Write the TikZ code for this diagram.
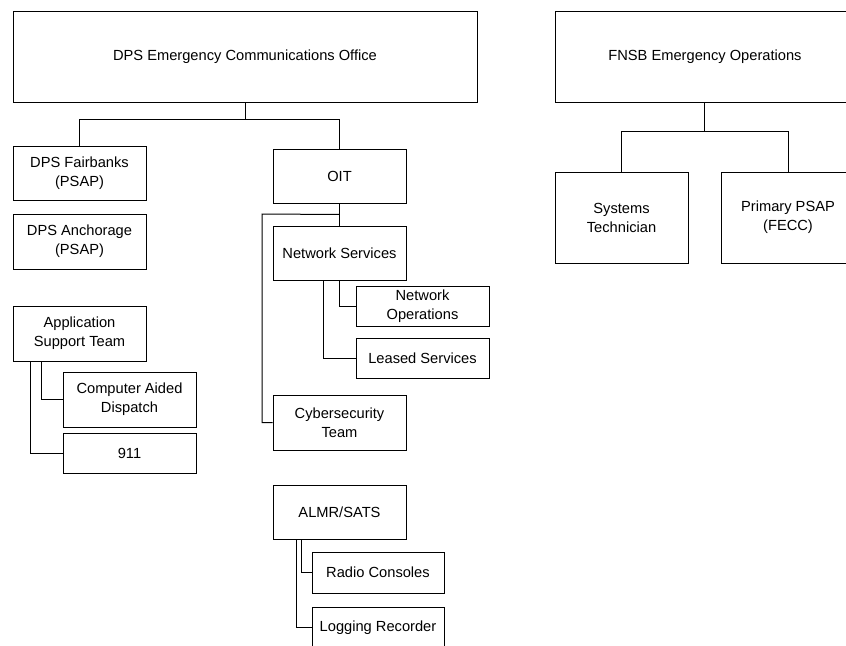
\documentclass[tikz,border=0pt]{standalone}
\usepackage{fontspec}
\setmainfont{Liberation Sans}
\usetikzlibrary{calc}
\begin{document}
\begin{tikzpicture}[x=0.75pt,y=-0.75pt,line width=0.75pt,
  box/.style={draw=black,align=center,inner sep=0pt,minimum width=99.75pt,minimum height=40.5pt,font=\fontsize{11}{14.25}\selectfont},
  shortbox/.style={box,minimum height=30pt},
  tallbox/.style={box,minimum height=68.25pt},
  conn/.style={draw=black,line width=0.75pt}]
\useasboundingbox (0,0) rectangle (846,646);
\clip (0,0) rectangle (846,646);
\fill[white] (0,0) rectangle (846,646);
% top-level
\node[tallbox,minimum width=348pt] (eco) at (245,56.5) {DPS Emergency Communications Office};
\node[tallbox,minimum width=225pt] (fnsb) at (705,56.5) {FNSB Emergency Operations};
% DPS branch
\node[box] (fair) at (79.5,173) {DPS Fairbanks\\(PSAP)};
\node[box,minimum height=41.25pt] (anch) at (79.5,241.5) {DPS Anchorage\\(PSAP)};
\node[box] (oit) at (339.5,176) {OIT};
\node[box] (ns) at (339.5,253) {Network Services};
\node[shortbox] (netops) at (422.5,306) {Network\\Operations};
\node[shortbox] (leased) at (422.5,358) {Leased Services};
\node[box,minimum height=41.25pt] (cyber) at (339.5,422.5) {Cybersecurity\\Team};
\node[box,minimum height=41.25pt] (ast) at (79.5,333.5) {Application\\Support Team};
\node[box,minimum height=41.25pt] (cad) at (129.5,399.5) {Computer Aided\\Dispatch};
\node[shortbox] (n911) at (129.5,453) {911};
\node[box] (almr) at (339.5,512) {ALMR/SATS};
\node[shortbox,minimum width=99pt,minimum height=30.75pt] (radio) at (378,572.5) {Radio Consoles};
\node[shortbox,minimum width=99pt,minimum height=30.75pt] (logging) at (378,627.5) {Logging Recorder};
% FNSB branch
\node[tallbox] (systech) at (621.5,217.5) {Systems\\Technician};
\node[tallbox,minimum width=100.5pt] (primary) at (788,217.5) {Primary PSAP\\(FECC)};
% connectors
\coordinate (ecoj) at ($(eco.south)+(0,17)$);
\draw[conn] (eco.south) -- (ecoj) -| (fair.north);
\draw[conn] (ecoj) -| (oit.north);
\draw[conn] (oit.south) -- (ns.north);
\coordinate (oitj) at ($(oit.south)+(0,11)$);
\coordinate (cyberl) at (262,214);
\draw[conn] (oitj) -- (cyberl) |- (cyber.west);
\draw[conn] (ns.south) |- (netops.west);
\coordinate (nsl) at ($(ns.south)+(-16.5,0)$);
\draw[conn] (nsl) |- (leased.west);
\coordinate (asta) at ($(ast.south)+(-38.5,0)$);
\coordinate (astb) at ($(ast.south)+(-49.5,0)$);
\draw[conn] (asta) |- (cad.west);
\draw[conn] (astb) |- (n911.west);
\coordinate (almra) at ($(almr.south)+(-38.5,0)$);
\coordinate (almrb) at ($(almr.south)+(-43.5,0)$);
\draw[conn] (almra) |- (radio.west);
\draw[conn] (almrb) |- (logging.west);
\coordinate (fnsbj) at ($(fnsb.south)+(-1,29)$);
\draw[conn] ($(fnsb.south)+(-1,0)$) -- (fnsbj) -| (systech.north);
\draw[conn] (fnsbj) -| (primary.north);
\end{tikzpicture}
\end{document}
